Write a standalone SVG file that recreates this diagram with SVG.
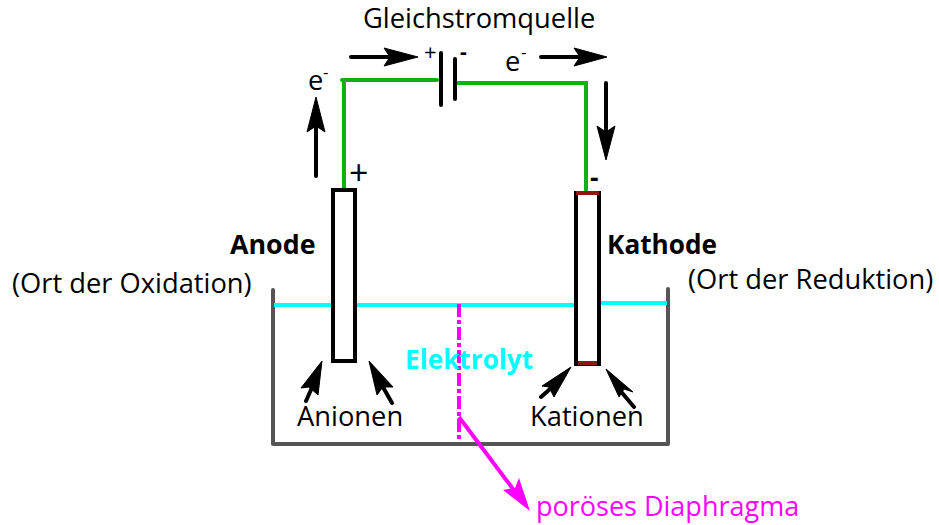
<svg xmlns="http://www.w3.org/2000/svg" width="939" height="525" viewBox="0 0 939 525">
<style>
text{font-family:"Open Sans","Noto Sans","Liberation Sans",sans-serif;font-size:27.3px;fill:#000}
.b{font-weight:700;font-size:26.2px}
.w{fill:none;stroke:#0fb00f;stroke-width:4;stroke-linecap:round}
.k{fill:none;stroke:#000;stroke-width:4;stroke-linecap:round}
.h{fill:#000;stroke:#000;stroke-width:1;stroke-linejoin:round}
.e{fill:#fff;stroke:#000;stroke-width:4}
.r{fill:none;stroke:#8b1a0e;stroke-width:4}
.t{fill:none;stroke:#555;stroke-width:4;stroke-linejoin:round;stroke-linecap:round}
.c{fill:none;stroke:#00ffff;stroke-width:4}
.m{fill:none;stroke:#ff00ff;stroke-width:4}
</style>
<rect width="939" height="525" fill="#fff"/>
<g id="tank">
<path class="t" d="M273 290V444H668V289"/>
<path class="c" d="M274 305H331M356 305H575M600 303H667"/>
</g>
<g id="diaphragm">
<path class="m" d="M459 304V440" stroke-dasharray="13 3 4 3"/>
<text x="536" y="516" style="fill:#ff00ff;font-size:27px">poröses Diaphragma</text>
</g>
<g id="connectors">
<path class="w" d="M342 80H437M344 80V188M458 83H586V190"/>
<path class="k" d="M351 57H390M541 57H580M316 176V125M606 83V135"/>
<path class="k" d="M306 401L314 383M392 403L379 380M541 397L559 381M634 407L618 388"/>
<path class="m" d="M459 417L522 501"/>
<path class="h" d="M418 57L384 48L390 57L384 66Z"/>
<path class="h" d="M607 57L574 48L580 57L574 66Z"/>
<path class="h" d="M316 97L307 132L316 126L325 132Z"/>
<path class="h" d="M606 160L597 126L606 132L615 126Z"/>
<path class="h" d="M322 361L301 388L309 387L318 395Z"/>
<path class="h" d="M369 361L377 395L383 387L393 387Z"/>
<path class="h" d="M571 367L542 386L549 387L554 397Z"/>
<path class="h" d="M606 369L619 397L624 389L633 392Z"/>
<path d="M530 511L503 490L515 488L519 478Z" fill="#ff00ff"/>
</g>
<g id="source">
<path class="k" d="M441 53V105M455 59V99"/>
<text x="363" y="28">Gleichstromquelle</text>
<text x="424" y="60" style="font-size:22px">+</text>
<text x="460" y="59" class="b" style="font-size:21px">-</text>
<text x="505" y="71">e</text><text x="521" y="58" style="font-size:17px">-</text>
<text x="308" y="90">e</text><text x="323" y="78" style="font-size:17px">-</text>
</g>
<g id="anode">
<rect class="e" x="333" y="190" width="22" height="171"/>
<text x="349" y="185" style="font-size:34px">+</text>
<text x="230" y="254" class="b" style="font-size:26.8px">Anode</text>
<text x="12" y="293">(Ort der Oxidation)</text>
<text x="297" y="426">Anionen</text>
</g>
<g id="cathode">
<rect class="e" x="576" y="193" width="23" height="171"/>
<path class="r" d="M576 193H599M578 363H597"/>
<text x="590" y="187" class="b">-</text>
<text x="607" y="254" class="b">Kathode</text>
<text x="688" y="289">(Ort der Reduktion)</text>
<text x="530" y="426">Kationen</text>
</g>
<text x="405" y="369" class="b" style="fill:#00ffff">Elektrolyt</text>
</svg>
